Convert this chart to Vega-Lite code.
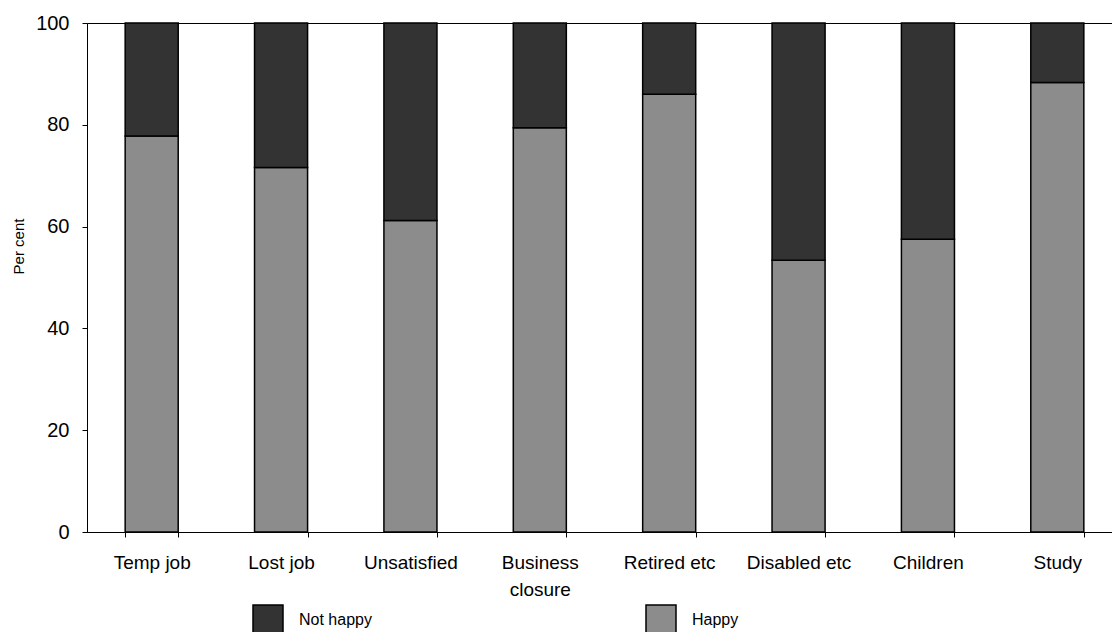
{
  "$schema": "https://vega.github.io/schema/vega-lite/v6.json",
  "width": 1035,
  "height": 509,
  "autosize": {"type": "none"},
  "padding": {"left": 87, "top": 23, "right": 0, "bottom": 100},
  "background": "white",
  "config": {
    "font": "Liberation Sans",
    "view": {"stroke": "black", "strokeWidth": 1},
    "axis": {"labelFont": "Liberation Sans", "titleFont": "Liberation Sans", "labelColor": "black", "titleColor": "black", "domainColor": "black", "tickColor": "black", "grid": false}
  },
  "data": {
    "values": [
      {"category": "Temp job", "group": "Happy", "value": 77.8},
      {"category": "Temp job", "group": "Not happy", "value": 22.2},
      {"category": "Lost job", "group": "Happy", "value": 71.6},
      {"category": "Lost job", "group": "Not happy", "value": 28.4},
      {"category": "Unsatisfied", "group": "Happy", "value": 61.2},
      {"category": "Unsatisfied", "group": "Not happy", "value": 38.8},
      {"category": "Business closure", "group": "Happy", "value": 79.4},
      {"category": "Business closure", "group": "Not happy", "value": 20.6},
      {"category": "Retired etc", "group": "Happy", "value": 86.0},
      {"category": "Retired etc", "group": "Not happy", "value": 14.0},
      {"category": "Disabled etc", "group": "Happy", "value": 53.4},
      {"category": "Disabled etc", "group": "Not happy", "value": 46.6},
      {"category": "Children", "group": "Happy", "value": 57.5},
      {"category": "Children", "group": "Not happy", "value": 42.5},
      {"category": "Study", "group": "Happy", "value": 88.3},
      {"category": "Study", "group": "Not happy", "value": 11.7}
    ]
  },
  "mark": {"type": "bar", "stroke": "black", "strokeWidth": 1.5},
  "encoding": {
    "x": {
      "field": "category",
      "type": "nominal",
      "sort": null,
      "scale": {"paddingInner": 0.59, "paddingOuter": 0.295},
      "axis": {
        "title": null,
        "labelAngle": 0,
        "labelFontSize": 19,
        "labelPadding": 16,
        "labelLineHeight": 27,
        "tickBand": "extent",
        "tickSize": 5,
        "domainWidth": 1,
        "labelLimit": 250,
        "labelExpr": "datum.label == 'Business closure' ? ['Business', 'closure'] : datum.label"
      }
    },
    "y": {
      "field": "value",
      "type": "quantitative",
      "stack": "zero",
      "scale": {"domain": [0, 100], "nice": false},
      "axis": {
        "title": "Per cent",
        "titleFontSize": 15,
        "titleFontWeight": "normal",
        "titleX": -69,
        "titleY": 223,
        "titleAlign": "center",
        "titleBaseline": "middle",
        "labelFontSize": 20,
        "labelPadding": 13,
        "tickSize": 5,
        "values": [0, 20, 40, 60, 80, 100]
      }
    },
    "color": {
      "field": "group",
      "type": "nominal",
      "sort": ["Not happy", "Happy"],
      "scale": {"domain": ["Not happy", "Happy"], "range": ["#333333", "#8c8c8c"]},
      "legend": {
        "title": null,
        "orient": "none",
        "direction": "horizontal",
        "columns": 2,
        "legendX": 165,
        "legendY": 581,
        "padding": 0,
        "symbolType": "square",
        "symbolSize": 900,
        "symbolStrokeColor": "black",
        "symbolStrokeWidth": 1.5,
        "symbolOpacity": 1,
        "labelFontSize": 16,
        "labelOffset": 15,
        "labelColor": "black",
        "columnPadding": 271
      }
    },
    "order": {"field": "group", "sort": "ascending"}
  }
}
